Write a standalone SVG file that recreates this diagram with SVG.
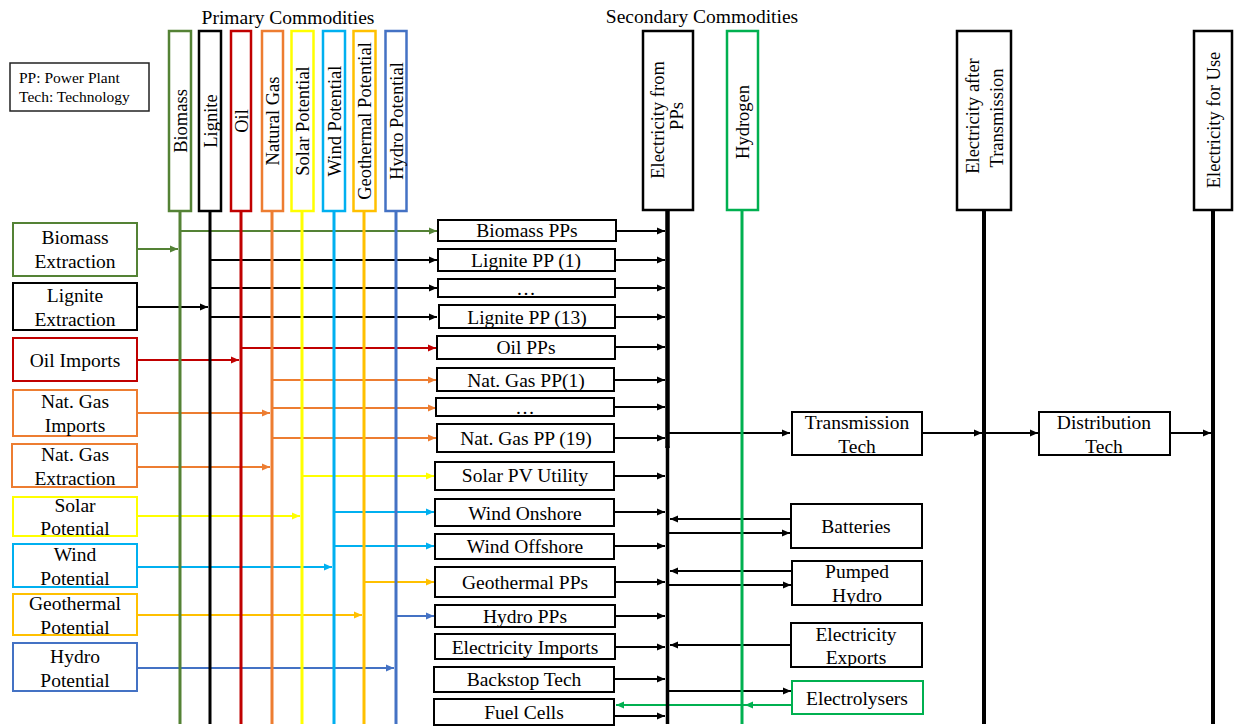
<svg xmlns="http://www.w3.org/2000/svg" width="1236" height="726" viewBox="0 0 1236 726">
<defs>
<style>
text{font-family:"Liberation Serif","Times New Roman",serif;fill:#000;}
.t{font-size:19.5px;text-anchor:middle;}
.rt{font-size:18.5px;text-anchor:middle;}
.hd{font-size:19.5px;text-anchor:middle;}
.lg{font-size:15.5px;}
.box{fill:#fff;stroke-width:2;}
.hbox{fill:#fff;stroke-width:2.5;}
.c{fill:none;stroke-width:2;}
.bus{stroke-width:3;fill:none;}
.k{stroke:#000;}
.g{stroke:#548235;}
.r{stroke:#C00000;}
.o{stroke:#ED7D31;}
.y{stroke:#FFFF00;}
.cy{stroke:#00B0F0;}
.a{stroke:#FFC000;}
.b{stroke:#4472C4;}
.h{stroke:#00B050;}
</style>
<marker id="mk" markerUnits="userSpaceOnUse" markerWidth="9" markerHeight="8" refX="8" refY="4" orient="auto"><path d="M0,0.5 L8,4 L0,7.5 z" fill="#000"/></marker>
<marker id="mg" markerUnits="userSpaceOnUse" markerWidth="9" markerHeight="8" refX="8" refY="4" orient="auto"><path d="M0,0.5 L8,4 L0,7.5 z" fill="#548235"/></marker>
<marker id="mr" markerUnits="userSpaceOnUse" markerWidth="9" markerHeight="8" refX="8" refY="4" orient="auto"><path d="M0,0.5 L8,4 L0,7.5 z" fill="#C00000"/></marker>
<marker id="mo" markerUnits="userSpaceOnUse" markerWidth="9" markerHeight="8" refX="8" refY="4" orient="auto"><path d="M0,0.5 L8,4 L0,7.5 z" fill="#ED7D31"/></marker>
<marker id="my" markerUnits="userSpaceOnUse" markerWidth="9" markerHeight="8" refX="8" refY="4" orient="auto"><path d="M0,0.5 L8,4 L0,7.5 z" fill="#FFFF00"/></marker>
<marker id="mc" markerUnits="userSpaceOnUse" markerWidth="9" markerHeight="8" refX="8" refY="4" orient="auto"><path d="M0,0.5 L8,4 L0,7.5 z" fill="#00B0F0"/></marker>
<marker id="ma" markerUnits="userSpaceOnUse" markerWidth="9" markerHeight="8" refX="8" refY="4" orient="auto"><path d="M0,0.5 L8,4 L0,7.5 z" fill="#FFC000"/></marker>
<marker id="mb" markerUnits="userSpaceOnUse" markerWidth="9" markerHeight="8" refX="8" refY="4" orient="auto"><path d="M0,0.5 L8,4 L0,7.5 z" fill="#4472C4"/></marker>
<marker id="mh" markerUnits="userSpaceOnUse" markerWidth="9" markerHeight="8" refX="8" refY="4" orient="auto"><path d="M0,0.5 L8,4 L0,7.5 z" fill="#00B050"/></marker>
</defs>
<rect width="1236" height="726" fill="#fff"/>

<!-- headers and legend -->
<g id="legend">
<rect x="10" y="63" width="139" height="48" fill="#fff" stroke="#222" stroke-width="1.5"/>
<text class="lg" x="19" y="83">PP: Power Plant</text>
<text class="lg" x="19" y="102">Tech: Technology</text>
</g>
<g id="headers">
<text class="hd" x="288" y="24">Primary Commodities</text>
<text class="hd" x="702" y="23">Secondary Commodities</text>
</g>

<!-- connectors -->
<g id="connectors">
<!-- extraction/imports to primary commodities -->
<path class="c g" d="M137,249 H178" marker-end="url(#mg)"/>
<path class="c k" d="M137,307 H208" marker-end="url(#mk)"/>
<path class="c r" d="M137,360 H239" marker-end="url(#mr)"/>
<path class="c o" d="M137,413 H270" marker-end="url(#mo)"/>
<path class="c o" d="M137,467 H270" marker-end="url(#mo)"/>
<path class="c y" d="M137,516 H300" marker-end="url(#my)"/>
<path class="c cy" d="M137,567 H332" marker-end="url(#mc)"/>
<path class="c a" d="M137,615 H362" marker-end="url(#ma)"/>
<path class="c b" d="M137,668 H394" marker-end="url(#mb)"/>
<!-- primary commodities to power plants -->
<path class="c g" d="M181,231 H437" marker-end="url(#mg)"/>
<path class="c k" d="M211,260 H437" marker-end="url(#mk)"/>
<path class="c k" d="M211,288 H437" marker-end="url(#mk)"/>
<path class="c k" d="M211,317 H437" marker-end="url(#mk)"/>
<path class="c r" d="M242,348 H436" marker-end="url(#mr)"/>
<path class="c o" d="M273,380 H436" marker-end="url(#mo)"/>
<path class="c o" d="M273,408 H436" marker-end="url(#mo)"/>
<path class="c o" d="M273,438 H436" marker-end="url(#mo)"/>
<path class="c y" d="M303,476 H434" marker-end="url(#my)"/>
<path class="c cy" d="M335,512 H434" marker-end="url(#mc)"/>
<path class="c cy" d="M335,546 H434" marker-end="url(#mc)"/>
<path class="c a" d="M365,582 H434" marker-end="url(#ma)"/>
<path class="c b" d="M397,616 H434" marker-end="url(#mb)"/>
<!-- power plants to electricity -->
<path class="c k" d="M616,231 H665" marker-end="url(#mk)"/>
<path class="c k" d="M615,260 H665" marker-end="url(#mk)"/>
<path class="c k" d="M615,288 H665" marker-end="url(#mk)"/>
<path class="c k" d="M615,317 H665" marker-end="url(#mk)"/>
<path class="c k" d="M615,347 H665" marker-end="url(#mk)"/>
<path class="c k" d="M615,380 H665" marker-end="url(#mk)"/>
<path class="c k" d="M615,407 H665" marker-end="url(#mk)"/>
<path class="c k" d="M615,438 H665" marker-end="url(#mk)"/>
<path class="c k" d="M614,476 H665" marker-end="url(#mk)"/>
<path class="c k" d="M614,512 H665" marker-end="url(#mk)"/>
<path class="c k" d="M614,546 H665" marker-end="url(#mk)"/>
<path class="c k" d="M614,582 H665" marker-end="url(#mk)"/>
<path class="c k" d="M614,616 H665" marker-end="url(#mk)"/>
<path class="c k" d="M614,647 H665" marker-end="url(#mk)"/>
<path class="c k" d="M614,679 H665" marker-end="url(#mk)"/>
<path class="c k" d="M614,716 H665" marker-end="url(#mk)"/>
<!-- transmission / distribution -->
<path class="c k" d="M669,433 H790" marker-end="url(#mk)"/>
<path class="c k" d="M922,433 H982" marker-end="url(#mk)"/>
<path class="c k" d="M986,433 H1038" marker-end="url(#mk)"/>
<path class="c k" d="M1170,433 H1211" marker-end="url(#mk)"/>
<!-- storage, exports, electrolysers -->
<path class="c k" d="M791,519 H670" marker-end="url(#mk)"/>
<path class="c k" d="M669,533 H790" marker-end="url(#mk)"/>
<path class="c k" d="M792,571 H670" marker-end="url(#mk)"/>
<path class="c k" d="M669,585 H791" marker-end="url(#mk)"/>
<path class="c k" d="M791,645 H670" marker-end="url(#mk)"/>
<path class="c k" d="M669,691 H791" marker-end="url(#mk)"/>
<path class="c h" d="M792,705 H745" marker-end="url(#mh)"/>
<path class="c h" d="M745,705 H616" marker-end="url(#mh)"/>
</g>

<!-- primary commodities -->
<g id="biomass"><path class="bus g" d="M180,211 V724"/><rect class="hbox g" x="169" y="31" width="22" height="180"/><text class="rt" transform="translate(180,121) rotate(-90)" y="6.5">Biomass</text></g>
<g id="lignite"><path class="bus k" d="M210,211 V724"/><rect class="hbox k" x="199" y="31" width="22" height="180"/><text class="rt" transform="translate(210,121) rotate(-90)" y="6.5">Lignite</text></g>
<g id="oil"><path class="bus r" d="M241,211 V724"/><rect class="hbox r" x="231" y="31" width="20" height="180"/><text class="rt" transform="translate(241,121) rotate(-90)" y="6.5">Oil</text></g>
<g id="natural-gas"><path class="bus o" d="M272,211 V724"/><rect class="hbox o" x="262" y="31" width="21" height="180"/><text class="rt" transform="translate(272.5,121) rotate(-90)" y="6.5">Natural Gas</text></g>
<g id="solar-potential"><path class="bus y" d="M302,211 V724"/><rect class="hbox y" x="291.5" y="31" width="22" height="180"/><text class="rt" transform="translate(302.5,121) rotate(-90)" y="6.5">Solar Potential</text></g>
<g id="wind-potential"><path class="bus cy" d="M334,211 V724"/><rect class="hbox cy" x="323" y="31" width="22" height="180"/><text class="rt" transform="translate(334,121) rotate(-90)" y="6.5">Wind Potential</text></g>
<g id="geothermal-potential"><path class="bus a" d="M364,211 V724"/><rect class="hbox a" x="353.5" y="31" width="22" height="180"/><text class="rt" transform="translate(364.5,121) rotate(-90)" y="6.5">Geothermal Potential</text></g>
<g id="hydro-potential"><path class="bus b" d="M396,211 V724"/><rect class="hbox b" x="385.5" y="31" width="21" height="180"/><text class="rt" transform="translate(396,121) rotate(-90)" y="6.5">Hydro Potential</text></g>

<!-- secondary commodities -->
<g id="electricity-from-pps"><path class="k" d="M667.5,210 V448" stroke-width="4.5"/><path class="k" d="M667.5,446 V724" stroke-width="3.5"/><rect class="hbox k" x="643" y="31" width="50" height="179"/><text class="rt" transform="translate(668,120) rotate(-90)" y="-4">Electricity from</text><text class="rt" transform="translate(668,116) rotate(-90)" y="15">PPs</text></g>
<g id="hydrogen"><path class="bus h" d="M742,210 V724"/><rect class="hbox h" x="727" y="31" width="31" height="179"/><text class="rt" transform="translate(742,122) rotate(-90)" y="6.5">Hydrogen</text></g>
<g id="electricity-after-transmission"><path class="k" d="M984,210 V724" stroke-width="4"/><rect class="hbox k" x="957" y="31" width="54" height="179"/><text class="rt" transform="translate(984,116) rotate(-90)" y="-5">Electricity after</text><text class="rt" transform="translate(984,118) rotate(-90)" y="19">Transmission</text></g>
<g id="electricity-for-use"><path class="k" d="M1213,210 V724" stroke-width="4"/><rect class="hbox k" x="1194" y="31" width="38" height="179"/><text class="rt" transform="translate(1213,120) rotate(-90)" y="6.5">Electricity for Use</text></g>

<!-- extraction / imports / potentials -->
<g id="biomass-extraction"><rect class="box g" x="13" y="223" width="124" height="53"/><text class="t" x="75" y="244">Biomass</text><text class="t" x="75" y="268">Extraction</text></g>
<g id="lignite-extraction"><rect class="box k" x="13" y="283" width="124" height="47"/><text class="t" x="75" y="302">Lignite</text><text class="t" x="75" y="326">Extraction</text></g>
<g id="oil-imports"><rect class="box r" x="13" y="338" width="124" height="43"/><text class="t" x="75" y="367">Oil Imports</text></g>
<g id="nat-gas-imports"><rect class="box o" x="13" y="390" width="124" height="46"/><text class="t" x="75" y="408">Nat. Gas</text><text class="t" x="75" y="432">Imports</text></g>
<g id="nat-gas-extraction"><rect class="box o" x="12" y="444" width="125" height="43"/><text class="t" x="75" y="461">Nat. Gas</text><text class="t" x="75" y="485">Extraction</text></g>
<g id="solar-potential-src"><rect class="box y" x="13" y="497" width="124" height="39"/><text class="t" x="75" y="512">Solar</text><text class="t" x="75" y="535">Potential</text></g>
<g id="wind-potential-src"><rect class="box cy" x="13" y="544" width="124" height="43"/><text class="t" x="75" y="561">Wind</text><text class="t" x="75" y="585">Potential</text></g>
<g id="geothermal-potential-src"><rect class="box a" x="13" y="594" width="124" height="41"/><text class="t" x="75" y="610">Geothermal</text><text class="t" x="75" y="634">Potential</text></g>
<g id="hydro-potential-src"><rect class="box b" x="13" y="643" width="124" height="48"/><text class="t" x="75" y="663">Hydro</text><text class="t" x="75" y="687">Potential</text></g>

<!-- power plants / technologies -->
<g id="biomass-pps"><rect class="box k" x="438" y="220" width="178" height="21"/><text class="t" x="527" y="237">Biomass PPs</text></g>
<g id="lignite-pp-1"><rect class="box k" x="438" y="249" width="177" height="22"/><text class="t" x="526" y="267">Lignite PP (1)</text></g>
<g id="lignite-pp-dots"><rect class="box k" x="438" y="279" width="177" height="18"/><text class="t" x="526" y="295">…</text></g>
<g id="lignite-pp-13"><rect class="box k" x="439" y="305" width="176" height="23"/><text class="t" x="527" y="324">Lignite PP (13)</text></g>
<g id="oil-pps"><rect class="box k" x="437" y="336" width="178" height="23"/><text class="t" x="526" y="354">Oil PPs</text></g>
<g id="nat-gas-pp-1"><rect class="box k" x="437" y="368" width="177" height="23"/><text class="t" x="526" y="387">Nat. Gas PP(1)</text></g>
<g id="nat-gas-pp-dots"><rect class="box k" x="436" y="398" width="178" height="18"/><text class="t" x="525" y="414">…</text></g>
<g id="nat-gas-pp-19"><rect class="box k" x="437" y="424" width="177" height="28"/><text class="t" x="526" y="445">Nat. Gas PP (19)</text></g>
<g id="solar-pv-utility"><rect class="box k" x="435" y="462" width="179" height="28"/><text class="t" x="525" y="482">Solar PV Utility</text></g>
<g id="wind-onshore"><rect class="box k" x="435" y="499" width="179" height="27"/><text class="t" x="525" y="520">Wind Onshore</text></g>
<g id="wind-offshore"><rect class="box k" x="435" y="534" width="179" height="25"/><text class="t" x="525" y="553">Wind Offshore</text></g>
<g id="geothermal-pps"><rect class="box k" x="435" y="567" width="180" height="30"/><text class="t" x="525" y="589">Geothermal PPs</text></g>
<g id="hydro-pps"><rect class="box k" x="435" y="605" width="180" height="22"/><text class="t" x="525" y="623">Hydro PPs</text></g>
<g id="electricity-imports"><rect class="box k" x="435" y="634" width="180" height="25"/><text class="t" x="525" y="654">Electricity Imports</text></g>
<g id="backstop-tech"><rect class="box k" x="434" y="667" width="180" height="25"/><text class="t" x="524" y="686">Backstop Tech</text></g>
<g id="fuel-cells"><rect class="box k" x="434" y="699" width="180" height="26"/><text class="t" x="524" y="719">Fuel Cells</text></g>

<!-- network and storage -->
<g id="transmission-tech"><rect class="box k" x="792" y="412" width="130" height="43"/><text class="t" x="857" y="429">Transmission</text><text class="t" x="857" y="453">Tech</text></g>
<g id="distribution-tech"><rect class="box k" x="1039" y="412" width="131" height="43"/><text class="t" x="1104" y="429">Distribution</text><text class="t" x="1104" y="453">Tech</text></g>
<g id="batteries"><rect class="box k" x="791" y="504" width="131" height="44"/><text class="t" x="856" y="533">Batteries</text></g>
<g id="pumped-hydro"><rect class="box k" x="792" y="561" width="130" height="44"/><text class="t" x="857" y="578">Pumped</text><text class="t" x="857" y="602">Hydro</text></g>
<g id="electricity-exports"><rect class="box k" x="791" y="623" width="131" height="44"/><text class="t" x="856" y="641">Electricity</text><text class="t" x="856" y="664">Exports</text></g>
<g id="electrolysers"><rect class="box h" x="792" y="681" width="131" height="33"/><text class="t" x="857" y="705">Electrolysers</text></g>
</svg>
